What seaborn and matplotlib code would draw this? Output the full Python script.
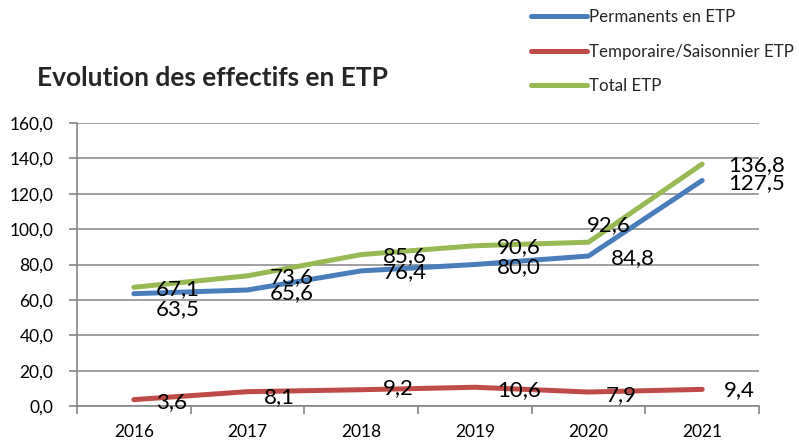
import matplotlib
matplotlib.use("Agg")
import matplotlib.pyplot as plt
import seaborn as sns
import pandas as pd
from matplotlib.ticker import FuncFormatter, FixedLocator
from matplotlib.lines import Line2D

years = ["2016", "2017", "2018", "2019", "2020", "2021"]
permanents = [63.5, 65.6, 76.4, 80.0, 84.8, 127.5]
temporaire = [3.6, 8.1, 9.2, 10.6, 7.9, 9.4]
total = [67.1, 73.6, 85.6, 90.6, 92.6, 136.8]
series_names = ["Permanents en ETP", "Temporaire/Saisonnier ETP", "Total ETP"]
colors = ["#4a7ebb", "#be4b48", "#98b954"]
title = "Evolution des effectifs en ETP"

# label offsets in pixels (style only)
label_dy = [
    [15, 3, 1, 2.5, 2, 2.5],
    [2, 5, -2, 3, 3, 0.6],
    [2, 1, 1, 1, -17, 1],
]
label_dx = [
    [22, 22, 22, 22, 22, 26],
    [22, 16, 22, 22, 17, 22],
    [22, 22, 22, 22, -2, 26],
]

sns.set_theme(style="white")
plt.rcParams["font.family"] = ["Lato", "DejaVu Sans"]

rows = []
for name, vals in zip(series_names, [permanents, temporaire, total]):
    for i, v in enumerate(vals):
        rows.append({"x": i, "year": years[i], "value": v, "serie": name})
df = pd.DataFrame(rows)

fig = plt.figure(figsize=(7.99, 4.41), dpi=100)
ax = fig.add_axes([77 / 799, 35 / 441, (759 - 77) / 799, (406 - 123) / 441])

sns.lineplot(data=df, x="x", y="value", hue="serie", palette=colors,
             hue_order=series_names, linewidth=3.6, ax=ax, legend=False,
             solid_capstyle="round")

ax.set_xlim(-0.5, 5.5)
ax.set_ylim(0, 160)
ax.set_yticks(range(0, 161, 20))
ax.yaxis.set_major_formatter(FuncFormatter(lambda v, p: f"{v:.1f}".replace(".", ",")))
ax.set_xticks(range(len(years)))
ax.set_xticklabels(years)
ax.xaxis.set_minor_locator(FixedLocator([i - 0.5 for i in range(len(years) + 1)]))
ax.tick_params(axis="x", which="major", length=0, pad=13, labelsize=12.5, colors="black")
ax.tick_params(axis="x", which="minor", length=6, width=1.2, color="#868686", bottom=True)
ax.tick_params(axis="y", which="major", length=6, width=1.2, color="#868686", left=True,
               pad=11, labelsize=12.5, labelcolor="black")
ax.set_xlabel("")
ax.set_ylabel("")
ax.grid(axis="y", color="#868686", linewidth=1.1)
ax.grid(axis="x", visible=False)
ax.set_axisbelow(True)
for s in ["top", "right"]:
    ax.spines[s].set_visible(False)
for s in ["left", "bottom"]:
    ax.spines[s].set_color("#868686")
    ax.spines[s].set_linewidth(1.2)

for si, vals in enumerate([permanents, temporaire, total]):
    for i, v in enumerate(vals):
        ax.annotate(f"{v:.1f}".replace(".", ","), xy=(i, v),
                    xytext=(label_dx[si][i], -label_dy[si][i]),
                    textcoords="offset pixels", ha="left", va="center",
                    fontsize=16, color="black", annotation_clip=False)

fig.text(37 / 799, 1 - 78 / 441, title, fontsize=19, fontweight="bold",
         ha="left", va="center")

handles = [Line2D([0], [0], color=c, linewidth=3.6, solid_capstyle="round") for c in colors]
fig.legend(handles, series_names, loc="upper left", bbox_to_anchor=(531 / 799, 1 - 9 / 441),
           frameon=False, fontsize=12.2, handlelength=3.3, handletextpad=0.15,
           labelspacing=1.1, borderpad=0, borderaxespad=0)

fig.savefig("out.png", dpi=100)
